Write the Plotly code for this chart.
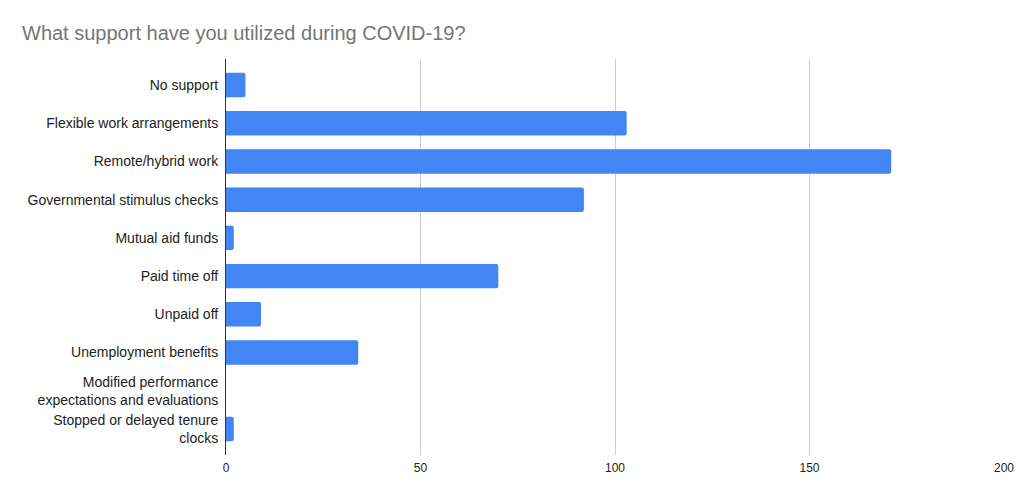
import plotly.graph_objects as go

categories = [
    "No support",
    "Flexible work arrangements",
    "Remote/hybrid work",
    "Governmental stimulus checks",
    "Mutual aid funds",
    "Paid time off",
    "Unpaid off",
    "Unemployment benefits",
    "Modified performance<br>expectations and evaluations",
    "Stopped or delayed tenure<br>clocks",
]
values = [5, 103, 171, 92, 2, 70, 9, 34, 0, 2]
x_ticks = [0, 50, 100, 150, 200]

fig = go.Figure(go.Bar(
    y=categories, x=values, orientation="h",
    marker=dict(color="#4285F4", line=dict(width=0)),
))
fig.update_layout(
    width=1009, height=478,
    margin=dict(l=218, r=13, t=51, b=31, autoexpand=False),
    paper_bgcolor="white", plot_bgcolor="white",
    bargap=0.36,
    barcornerradius=2,
    showlegend=False,
    font=dict(family="Liberation Sans, Arial, sans-serif", size=14, color="#222222"),
    title=dict(text="What support have you utilized during COVID-19?",
               x=14/1009, xanchor="left", y=1-25/478, yanchor="middle",
               font=dict(size=20, color="#757575")),
)
fig.update_xaxes(range=[0, 200], tickvals=x_ticks, showgrid=True, gridcolor="#cccccc",
                 gridwidth=1, zeroline=False, showline=False, ticks="",
                 ticklabelstandoff=4,
                 automargin=False, tickfont=dict(size=12, color="#222222"))
fig.update_yaxes(range=[len(categories) - 0.5 + 0.183, -0.5 - 0.183],
                 showline=True, linecolor="#333333", linewidth=1,
                 ticks="", ticklabelstandoff=4, automargin=False,
                 tickfont=dict(size=14, color="#222222"))
fig.write_html("out.html")
